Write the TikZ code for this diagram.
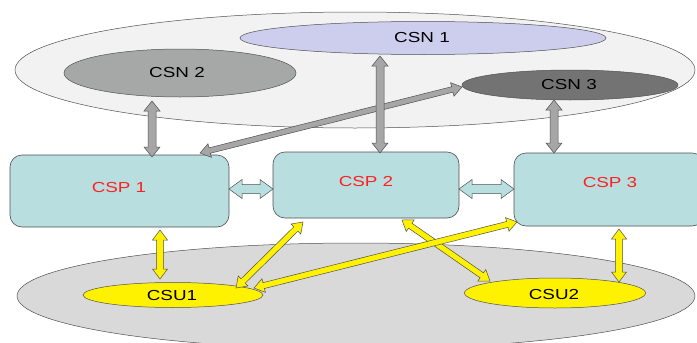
\documentclass[tikz,border=0pt]{standalone}
\usepackage{fontspec}
\setmainfont{Liberation Sans}
\usetikzlibrary{shapes.geometric,calc}
\definecolor{cloudfill}{HTML}{F2F2F2}
\definecolor{csnone}{HTML}{CDCDEE}
\definecolor{csntwo}{HTML}{A6A8A8}
\definecolor{csnthree}{HTML}{737373}
\definecolor{cspfill}{HTML}{B8DEE0}
\definecolor{userfill}{HTML}{D9D9D9}
\definecolor{outl}{HTML}{505050}
\definecolor{cspred}{HTML}{FF2020}
\definecolor{grayarrow}{HTML}{A6A6A6}
\newcommand{\fatarr}[6]{%
  \draw[#1] (#2) -- ($(#2)!#4!(#3)!#6!90:(#3)$) -- ($(#2)!#4!(#3)!#5!90:(#3)$)
    -- ($(#3)!#4!(#2)!#5!-90:(#2)$) -- ($(#3)!#4!(#2)!#6!-90:(#2)$) -- (#3)
    -- ($(#3)!#4!(#2)!#6!90:(#2)$) -- ($(#3)!#4!(#2)!#5!90:(#2)$)
    -- ($(#2)!#4!(#3)!#5!-90:(#3)$) -- ($(#2)!#4!(#3)!#6!-90:(#3)$) -- cycle;}
\newcommand{\wtxt}[1]{\scalebox{1.3}[1]{#1}}
\tikzset{
  ell/.style={ellipse, draw=outl, line width=0.5pt, inner sep=0pt},
  cspbox/.style={rectangle, rounded corners=12pt, draw=outl, line width=0.6pt, fill=cspfill, inner sep=0pt},
  lbl/.style={font=\fontsize{14.5}{16}\selectfont, inner sep=0pt},
  csplbl/.style={lbl, text=cspred},
  grayarr/.style={draw=outl, line width=0.5pt, fill=grayarrow},
  bluearr/.style={draw=outl, line width=0.5pt, fill=cspfill},
  yelarr/.style={draw=outl, line width=0.5pt, fill=yellow},
}
\begin{document}
\begin{tikzpicture}[x=1pt,y=-1pt]
\useasboundingbox (0,0) rectangle (697,343);
\begin{scope}
\clip (0,0) rectangle (697,343);
% top cloud
\node[ell, fill=cloudfill, minimum width=680pt, minimum height=116pt] (cloud) at (355,70) {};
\node[ell, fill=csnone, minimum width=366pt, minimum height=33pt] (csn1) at (423,38) {};
\node[lbl] at (422,38) {\wtxt{CSN 1}};
\node[ell, fill=csntwo, minimum width=232pt, minimum height=48pt] (csn2) at (180,73) {};
\node[lbl] at (177,73) {\wtxt{CSN 2}};
\node[ell, fill=csnthree, minimum width=216pt, minimum height=30pt] (csn3) at (570,85) {};
\node[lbl] at (569,85) {\wtxt{CSN 3}};
% bottom users
\node[ell, fill=userfill, minimum width=678pt, minimum height=106pt] (users) at (356,296) {};
\node[ell, fill=yellow, minimum width=180pt, minimum height=25pt] (csu1) at (173,295) {};
\node[lbl] at (172,296) {\wtxt{CSU1}};
\node[ell, fill=yellow, minimum width=181pt, minimum height=30pt] (csu2) at (555,293) {};
\node[lbl] at (554,295) {\wtxt{CSU2}};
% providers
\node[cspbox, minimum width=219pt, minimum height=72pt] (csp1) at (119.5,191) {};
\node[csplbl] at (119,188) {\wtxt{CSP 1}};
\node[cspbox, minimum width=186pt, minimum height=66pt] (csp2) at (366,185) {};
\node[csplbl] at (366,182) {\wtxt{CSP 2}};
\node[cspbox, minimum width=190pt, minimum height=73pt] (csp3) at (609,189.5) {};
\node[csplbl] at (610,183) {\wtxt{CSP 3}};
% connector end points
\coordinate (g1a) at (152,101); \coordinate (g1b) at (152,157);
\coordinate (g2a) at (380,56);  \coordinate (g2b) at (380,153);
\coordinate (g3a) at (554,100); \coordinate (g3b) at (554,153);
\coordinate (g4a) at (200,153); \coordinate (g4b) at (462,87);
\coordinate (b1a) at (229,189); \coordinate (b1b) at (273,189);
\coordinate (b2a) at (459,189); \coordinate (b2b) at (514,189);
\coordinate (y1a) at (160,230); \coordinate (y1b) at (160,279);
\coordinate (y2a) at (303,222); \coordinate (y2b) at (236,288);
\coordinate (y3a) at (517,222); \coordinate (y3b) at (254,288);
\coordinate (y4a) at (402,220); \coordinate (y4b) at (490,281);
\coordinate (y5a) at (619,229); \coordinate (y5b) at (619,282);
% gray arrows
\fatarr{grayarr}{g4a}{g4b}{10pt}{2.8pt}{7pt}
\fatarr{grayarr}{g1a}{g1b}{10pt}{4pt}{8pt}
\fatarr{grayarr}{g2a}{g2b}{10pt}{4pt}{8pt}
\fatarr{grayarr}{g3a}{g3b}{10pt}{4pt}{8pt}
% blue arrows
\fatarr{bluearr}{b1a}{b1b}{13pt}{4.5pt}{9.5pt}
\fatarr{bluearr}{b2a}{b2b}{13pt}{4.5pt}{9.5pt}
% yellow arrows
\fatarr{yelarr}{y1a}{y1b}{10pt}{3.5pt}{7.5pt}
\fatarr{yelarr}{y2a}{y2b}{10pt}{3pt}{7pt}
\fatarr{yelarr}{y4a}{y4b}{10pt}{3pt}{7pt}
\fatarr{yelarr}{y3a}{y3b}{10pt}{3pt}{7pt}
\fatarr{yelarr}{y5a}{y5b}{10pt}{3.5pt}{7.5pt}
\end{scope}
\end{tikzpicture}
\end{document}
